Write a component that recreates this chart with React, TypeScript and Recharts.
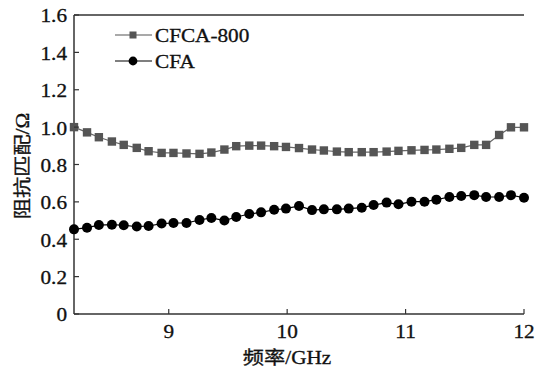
import React from "react";
import { LineChart, Line, XAxis, YAxis, Legend, ReferenceLine } from "recharts";

// Frequency sweep (GHz) and impedance matching for both samples
const freq = [
  8.2, 8.31, 8.41, 8.52, 8.62, 8.73, 8.83, 8.94, 9.04, 9.15, 9.26, 9.36, 9.47,
  9.57, 9.68, 9.78, 9.89, 9.99, 10.1, 10.21, 10.31, 10.42, 10.52, 10.63, 10.73,
  10.84, 10.94, 11.05, 11.16, 11.26, 11.37, 11.47, 11.58, 11.68, 11.79, 11.89, 12.0,
];
const cfca800 = [
  1.0, 0.972, 0.946, 0.923, 0.905, 0.889, 0.871, 0.862, 0.862, 0.859, 0.857, 0.864,
  0.88, 0.898, 0.901, 0.901, 0.898, 0.894, 0.888, 0.88, 0.875, 0.869, 0.866, 0.866,
  0.866, 0.869, 0.873, 0.876, 0.878, 0.88, 0.884, 0.889, 0.905, 0.905, 0.958, 0.999,
  0.999,
];
const cfa = [
  0.453, 0.462, 0.476, 0.478, 0.475, 0.468, 0.471, 0.484, 0.487, 0.487, 0.503, 0.514,
  0.5, 0.519, 0.535, 0.544, 0.558, 0.564, 0.578, 0.556, 0.56, 0.56, 0.564, 0.569,
  0.583, 0.596, 0.587, 0.601, 0.601, 0.612, 0.626, 0.631, 0.636, 0.626, 0.626, 0.636,
  0.622,
];
const xTicks = [9, 10, 11, 12];
const yTicks = [0, 0.2, 0.4, 0.6, 0.8, 1.0, 1.2, 1.4, 1.6];
const legendOrder = ["cfca800", "cfa"];

const data = freq.map((f, i) => ({ f, cfca800: cfca800[i], cfa: cfa[i] }));

const FONT = '"Liberation Serif", "Times New Roman", "Noto Sans CJK SC", serif';
const STRETCH = 1.18;
const FS = 18;
const AXIS = "#333";
const GREY = "#555";

const textStyle = {
  fontSize: FS,
  fontFamily: FONT,
  fill: "#111",
  stroke: "#111",
  strokeWidth: 0.3,
};

function XTick({ x, y, payload }: any) {
  return (
    <g>
      <line x1={x} y1={y} x2={x} y2={y - 5} stroke={AXIS} strokeWidth={1.2} />
      <text
        transform={`translate(${x},${y + 18}) scale(${STRETCH},1)`}
        textAnchor="middle"
        dominantBaseline="central"
        {...textStyle}
      >
        {payload.value}
      </text>
    </g>
  );
}

function YTick({ x, y, payload }: any) {
  const v = payload.value;
  return (
    <g>
      <line x1={x} y1={y} x2={x + 5} y2={y} stroke={AXIS} strokeWidth={1.2} />
      <text
        transform={`translate(${x - 7},${y + 1}) scale(${STRETCH},1)`}
        textAnchor="end"
        dominantBaseline="central"
        {...textStyle}
      >
        {v === 0 ? "0" : v.toFixed(1)}
      </text>
    </g>
  );
}

const XTitle = () => (
  <text
    transform={`translate(287,358) scale(${STRETCH},1)`}
    textAnchor="middle"
    dominantBaseline="central"
    {...textStyle}
  >
    频率/GHz
  </text>
);

const YTitle = () => (
  <text
    transform={`translate(23,166) rotate(-90) scale(${STRETCH},1)`}
    textAnchor="middle"
    dominantBaseline="central"
    {...textStyle}
  >
    阻抗匹配/Ω
  </text>
);

const SquareDot = (props: any) => {
  const { cx, cy, index } = props;
  return <rect key={`sq-${index}`} x={cx - 4.2} y={cy - 4.2} width={8.4} height={8.4} fill={GREY} />;
};

const CircleDot = (props: any) => {
  const { cx, cy, index } = props;
  return <circle key={`ci-${index}`} cx={cx} cy={cy} r={5} fill="#000" />;
};

function renderLegend({ payload }: any) {
  const items = [...(payload || [])].sort(
    (a: any, b: any) => legendOrder.indexOf(a.dataKey) - legendOrder.indexOf(b.dataKey)
  );
  return (
    <svg width={280} height={80}>
      {items.map((entry: any, i: number) => {
        const y = 35 + i * 26;
        const square = entry.dataKey === "cfca800";
        const color = square ? GREY : "#000";
        return (
          <g key={entry.value}>
            <line x1={115} y1={y} x2={152} y2={y} stroke={color} strokeWidth={1.2} />
            {square ? (
              <rect x={129.5} y={y - 3.5} width={7} height={7} fill={color} />
            ) : (
              <circle cx={133} cy={y} r={4.4} fill={color} />
            )}
            <text
              transform={`translate(155,${y + 1}) scale(${STRETCH},1)`}
              dominantBaseline="central"
              {...textStyle}
            >
              {entry.value}
            </text>
          </g>
        );
      })}
    </svg>
  );
}

export default function App() {
  return (
    <div style={{ position: "absolute", left: 0, top: 0, background: "#fff" }}>
      <LineChart
        width={542}
        height={368}
        data={data}
        margin={{ top: 15, right: 18, left: 14, bottom: 0 }}
      >
        <XAxis
          dataKey="f"
          type="number"
          domain={[8.2, 12]}
          ticks={xTicks}
          tick={<XTick />}
          tickLine={false}
          tickSize={0}
          tickMargin={0}
          height={54}
          axisLine={{ stroke: AXIS, strokeWidth: 1.5 }}
          label={<XTitle />}
        />
        <YAxis
          type="number"
          domain={[0, 1.6]}
          ticks={yTicks}
          tick={<YTick />}
          tickLine={false}
          tickSize={0}
          tickMargin={0}
          width={60}
          axisLine={{ stroke: AXIS, strokeWidth: 1.5 }}
          label={<YTitle />}
        />
        <YAxis
          yAxisId="right"
          orientation="right"
          type="number"
          domain={[0, 1.6]}
          tick={false}
          tickLine={false}
          width={0}
          axisLine={{ stroke: AXIS, strokeWidth: 1.5 }}
        />
        {/* top frame edge */}
        <ReferenceLine y={1.6} stroke={AXIS} strokeWidth={1.5} />
        <Legend
          layout="vertical"
          align="center"
          verticalAlign="middle"
          wrapperStyle={{ left: 0, top: 0 }}
          content={renderLegend}
        />
        <Line
          dataKey="cfca800"
          name="CFCA-800"
          stroke="#666"
          strokeWidth={1.2}
          dot={SquareDot}
          isAnimationActive={false}
        />
        <Line
          dataKey="cfa"
          name="CFA"
          stroke="#000"
          strokeWidth={1.2}
          dot={CircleDot}
          isAnimationActive={false}
        />
      </LineChart>
    </div>
  );
}
